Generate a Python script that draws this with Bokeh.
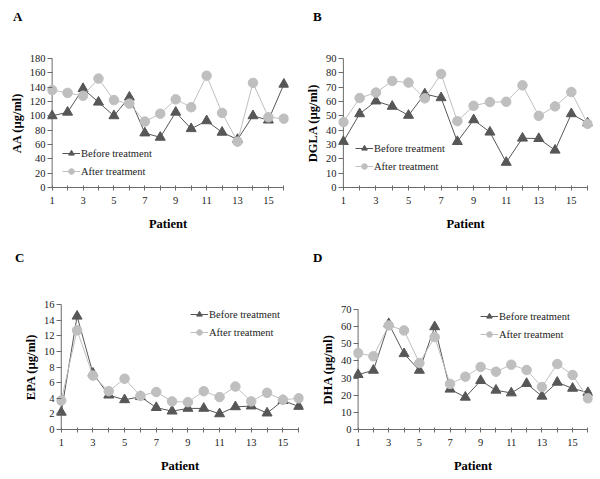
from bokeh.plotting import figure
from bokeh.layouts import column, row
from bokeh.models import Range1d, FixedTicker, Span, Legend, LegendItem, Div
from bokeh.embed import file_html
from bokeh.resources import INLINE

patients = list(range(1, 17))
x_tick_labels = {i: (str(i) if i % 2 == 1 else "") for i in patients}

aa_before = [100, 105, 138, 119, 100, 126, 76, 70, 105, 82, 93, 77, 67, 100, 94, 144]
aa_after = [136, 132, 128, 152, 122, 117, 92, 103, 123, 112, 156, 104, 64, 146, 98, 96]
dgla_before = [32, 51.4, 60.3, 56.6, 50.3, 65.2, 62.6, 32, 47.2, 38.6, 17.5, 34.4, 34.1, 26, 51.4, 45]
dgla_after = [45.6, 62.4, 66.2, 74.3, 73.2, 62.2, 79.2, 46.3, 57, 59.6, 59.8, 71.3, 50, 56.6, 66.6, 44.4]
epa_before = [2.2, 14.5, 7.2, 4.4, 3.8, 4.2, 2.8, 2.35, 2.7, 2.7, 2.0, 2.9, 3.0, 2.1, 3.7, 2.95]
epa_after = [3.7, 12.7, 6.9, 4.9, 6.5, 4.3, 4.8, 3.6, 3.5, 4.9, 4.15, 5.5, 3.6, 4.7, 3.8, 4.0]
dha_before = [32, 34.5, 61.7, 44.2, 34.5, 59.9, 23.5, 18.8, 28.5, 22.9, 21.3, 26.8, 19.4, 27.5, 24, 21.5]
dha_after = [44.6, 42.7, 60.7, 57.8, 38.8, 53.9, 26.6, 30.8, 36.5, 33.7, 37.8, 34.7, 24.8, 38.2, 31.8, 18.2]

series_names = ["Before treatment", "After treatment"]
panel_letters = ["A", "B", "C", "D"]

FONT = "Liberation Serif"
AXIS_COLOR = "#6b6b6b"
BEFORE_COLOR = "#575757"
AFTER_COLOR = "#bfbfbf"


def letter_div(letter, w, h, pad_left, pad_top):
    html = ('<div style="padding-left:%dpx;padding-top:%dpx;font-family:\'%s\';'
            'font-weight:bold;font-size:13px;line-height:13px;color:black;margin:0">%s</div>'
            % (pad_left, pad_top, FONT, letter))
    return Div(text=html, width=w, height=h, margin=0)


def panel(ylabel, before, after, ymax, ystep, w, h, left, right, top, bottom, leg_xy):
    pad = 0.3
    p = figure(width=w, height=h, output_backend="svg", toolbar_location=None,
               x_range=Range1d(patients[0] - pad, patients[-1] + pad),
               y_range=Range1d(0, ymax),
               min_border_left=left, min_border_right=right,
               min_border_top=top, min_border_bottom=bottom,
               frame_align=False)
    p.outline_line_color = None
    p.grid.visible = False
    p.background_fill_color = "white"
    p.border_fill_color = "white"

    frame_w = w - left - right
    gap = pad * frame_w / (patients[-1] - patients[0] + 2 * pad)

    # x axis
    xa = p.xaxis[0]
    xa.ticker = FixedTicker(ticks=patients)
    xa.major_label_overrides = x_tick_labels
    xa.bounds = (patients[0], patients[-1])
    xa.minor_tick_line_color = None
    xa.major_tick_in = 2
    xa.major_tick_out = 3
    xa.major_label_standoff = 6
    xa.axis_line_color = AXIS_COLOR
    xa.major_tick_line_color = AXIS_COLOR
    xa.major_label_text_font = FONT
    xa.major_label_text_font_size = "10.5px"
    xa.major_label_text_color = "#222222"
    xa.axis_label = "Patient"
    xa.axis_label_text_font = FONT
    xa.axis_label_text_font_style = "bold"
    xa.axis_label_text_font_size = "12.5px"
    xa.axis_label_text_color = "black"
    xa.axis_label_standoff = 10

    # y axis (its line is drawn at the first patient with a span)
    ya = p.yaxis[0]
    ya.ticker = FixedTicker(ticks=list(range(0, ymax + 1, ystep)))
    ya.minor_tick_line_color = None
    ya.axis_line_color = None
    ya.major_tick_in = round(gap)
    ya.major_tick_out = 0
    ya.major_tick_line_color = AXIS_COLOR
    ya.major_label_standoff = 2
    ya.major_label_text_font = FONT
    ya.major_label_text_font_size = "10.5px"
    ya.major_label_text_color = "#222222"
    ya.axis_label = ylabel
    ya.axis_label_text_font = FONT
    ya.axis_label_text_font_style = "bold"
    ya.axis_label_text_font_size = "12.5px"
    ya.axis_label_text_color = "black"
    ya.axis_label_standoff = 3

    p.add_layout(Span(location=patients[0], dimension="height",
                      line_color=AXIS_COLOR, line_width=1, level="underlay"))

    l1 = p.line(patients, before, line_color=BEFORE_COLOR, line_width=1)
    m1 = p.scatter(patients, before, marker="triangle", size=10,
                   fill_color=BEFORE_COLOR, line_color=BEFORE_COLOR)
    l2 = p.line(patients, after, line_color=AFTER_COLOR, line_width=1)
    m2 = p.scatter(patients, after, marker="circle", size=9.5,
                   fill_color=AFTER_COLOR, line_color=AFTER_COLOR)

    legend = Legend(items=[LegendItem(label=series_names[0], renderers=[l1, m1]),
                           LegendItem(label=series_names[1], renderers=[l2, m2])],
                    location=leg_xy, orientation="vertical")
    legend.border_line_color = None
    legend.background_fill_alpha = 0
    legend.padding = 0
    legend.margin = 0
    legend.spacing = 4
    legend.glyph_width = 18
    legend.glyph_height = 14
    legend.label_height = 14
    legend.label_standoff = 1
    legend.label_text_font = FONT
    legend.label_text_font_size = "10.5px"
    legend.label_text_color = "#222222"
    p.add_layout(legend, "center")
    return p


pa = panel("AA (µg/ml)", aa_before, aa_after, 180, 20,
           300, 224, 47, 12, 36, 59, (15, 9))
pb = panel("DGLA (µg/ml)", dgla_before, dgla_after, 90, 10,
           300, 224, 38, 8, 36, 59, (17, 14))
pc = panel("EPA (µg/ml)", epa_before, epa_after, 16, 2,
           305, 211, 56, 2, 36, 50, (134, 90))
pd = panel("DHA (µg/ml)", dha_before, dha_after, 70, 10,
           295, 211, 48, 8, 41, 50, (127, 88))

da = letter_div(panel_letters[0], 300, 22, 13, 10)
db = letter_div(panel_letters[1], 300, 22, 13, 10)
dc = letter_div(panel_letters[2], 305, 22, 15, 5)
dd = letter_div(panel_letters[3], 295, 22, 8, 5)

layout = column(row(da, db), row(pa, pb), row(dc, dd), row(pc, pd))
open("out.html", "w").write(file_html(layout, INLINE))
